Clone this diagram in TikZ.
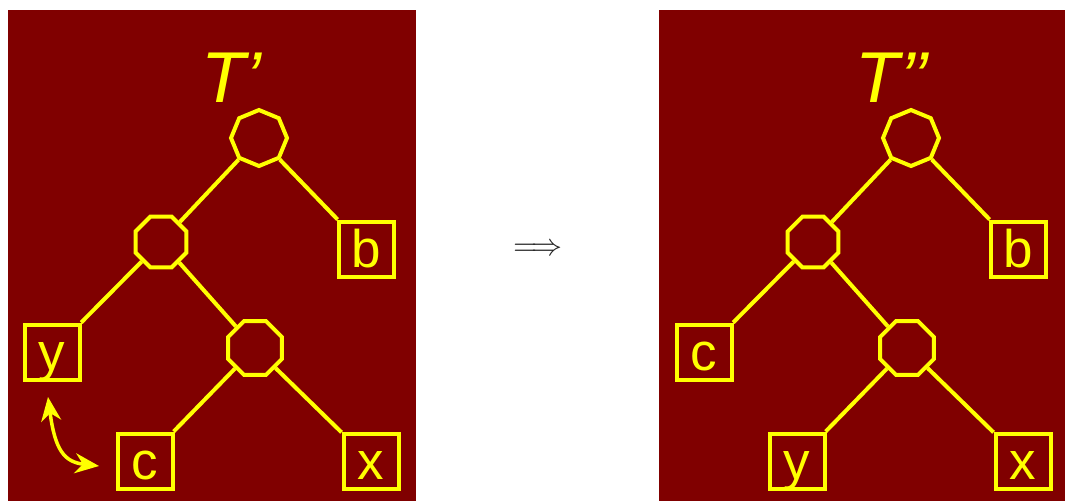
\documentclass[tikz,border=0pt]{standalone}
\usepackage{fontspec}
\setmainfont{Liberation Sans}
\usetikzlibrary{shapes.geometric,arrows.meta}
\definecolor{bg}{HTML}{800000}
\definecolor{yel}{HTML}{FFFF00}
\begin{document}
\begin{tikzpicture}[x=1pt,y=-1pt,
  panel/.style={fill=bg,draw=none},
  leaf/.style={draw=yel,line width=4pt,minimum size=55pt,inner sep=0pt,text=yel,
    font=\fontsize{53}{53}\selectfont,text height=36pt,text depth=0pt},
  octA/.style={draw=yel,line width=4pt,regular polygon,regular polygon sides=8,
    shape border rotate=22.5,minimum size=56pt,inner sep=0pt},
  octB/.style={draw=yel,line width=4pt,regular polygon,regular polygon sides=8,
    minimum size=55pt,inner sep=0pt},
  octC/.style={draw=yel,line width=4pt,regular polygon,regular polygon sides=8,
    minimum size=58pt,inner sep=0pt},
  edge/.style={draw=yel,line width=4pt},
  title/.style={text=yel,font=\fontsize{72}{72}\selectfont\itshape,anchor=base west,inner sep=0pt},
  swap/.style={draw=yel,line width=3.5pt,{Stealth[length=24pt,width=20pt]}-{Stealth[length=24pt,width=20pt]}}
]
\useasboundingbox (0,0) rectangle (1065,501);
\fill[panel] (8,10) rectangle (416,501);
\fill[panel] (659,10) rectangle (1065,501);

% left tree
\node[title] (t1) at (201,102) {T’};
\node[octA] (r1) at (259,138) {};
\node[octB] (m1) at (161,242) {};
\node[octC] (l1) at (255,348) {};
\node[leaf] (b1) at (366,249) {b};
\node[leaf] (y1) at (52,352) {y};
\node[leaf] (c1) at (145,461) {c};
\node[leaf] (x1) at (371,461) {x};
\draw[edge] (r1) -- (m1);
\draw[edge] (r1) -- (b1);
\draw[edge] (m1) -- (y1);
\draw[edge] (m1) -- (l1);
\draw[edge] (l1) -- (c1);
\draw[edge] (l1) -- (x1);
\coordinate (s1) at (48,397);
\coordinate (s2) at (99,466);
\draw[swap] (s1) .. controls (55,450) and (64,462) .. (s2);

% arrow
\node[scale=3.1,text=black!85] (imp) at (538,250) {$\Longrightarrow$};

% right tree
\node[title] (t2) at (855,102) {T’’};
\node[octA] (r2) at (911,138) {};
\node[octB] (m2) at (813,242) {};
\node[octC] (l2) at (907,348) {};
\node[leaf] (b2) at (1018,249) {b};
\node[leaf] (c2) at (704,352) {c};
\node[leaf] (y2) at (797,461) {y};
\node[leaf] (x2) at (1023,461) {x};
\draw[edge] (r2) -- (m2);
\draw[edge] (r2) -- (b2);
\draw[edge] (m2) -- (c2);
\draw[edge] (m2) -- (l2);
\draw[edge] (l2) -- (y2);
\draw[edge] (l2) -- (x2);
\end{tikzpicture}
\end{document}
